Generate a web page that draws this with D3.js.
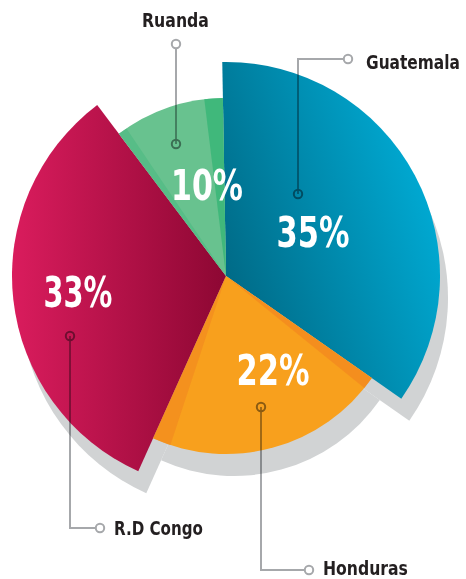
<!DOCTYPE html>
<html>
<head>
<meta charset="utf-8">
<script src="https://cdn.jsdelivr.net/npm/d3@7/dist/d3.min.js"></script>
<style>
  html, body { margin: 0; padding: 0; background: #fff; }
  svg { display: block; }
  text { font-family: "DejaVu Sans Condensed", "DejaVu Sans", sans-serif; font-stretch: condensed; font-weight: bold; }
</style>
</head>
<body>
<svg id="chart" width="466" height="579"></svg>
<script>
const categories = ["Guatemala", "Honduras", "R.D Congo", "Ruanda"];
const values = [35, 22, 33, 10];
const percentLabels = ["35%", "22%", "33%", "10%"];

const cx = 226, cy = 276;
const svg = d3.select("#chart");
const defs = svg.append("defs");

const radius = d3.scaleOrdinal().domain(categories).range([214, 178, 214, 178]);
const rot = -1 * Math.PI / 180;

const pie = d3.pie().sort(null).value(d => d.value)
  .startAngle(rot).endAngle(2 * Math.PI + rot);
const data = categories.map((c, i) => ({ cat: c, value: values[i], label: percentLabels[i] }));
const arcs = pie(data);
const arc = d3.arc().innerRadius(0).outerRadius(d => radius(d.data.cat));

// gradients (coordinates relative to pie centre)
function lin(id, x1, y1, x2, y2, stops) {
  const g = defs.append("linearGradient").attr("id", id)
    .attr("gradientUnits", "userSpaceOnUse")
    .attr("x1", x1).attr("y1", y1).attr("x2", x2).attr("y2", y2);
  stops.forEach(s => g.append("stop").attr("offset", s[0]).attr("stop-color", s[1]));
}
lin("gBlue", 0, 20, 214, -50, [[0, "#006985"], [1, "#00a9d2"]]);
lin("gRed", -214, 0, 0, 0, [[0, "#da1c5d"], [1, "#8d0733"]]);

const fills = {
  "Guatemala": "url(#gBlue)",
  "Honduras": "#f8a01d",
  "R.D Congo": "url(#gRed)",
  "Ruanda": "#68c28f"
};

// shadow
const shadow = svg.append("g").attr("transform", `translate(${cx + 8},${cy + 22})`);
shadow.selectAll("path").data(arcs).join("path")
  .attr("d", arc).attr("fill", "#d1d3d4");

const g = svg.append("g").attr("transform", `translate(${cx},${cy})`);
g.selectAll("path.slice").data(arcs).join("path")
  .attr("class", "slice")
  .attr("d", arc)
  .attr("fill", d => fills[d.data.cat]);

// subtle inner strips
const deg = Math.PI / 180;
function strip(d, a0, a1, color, op) {
  g.append("path")
    .attr("d", d3.arc()({ innerRadius: 0, outerRadius: radius(d.data.cat), startAngle: a0, endAngle: a1 }))
    .attr("fill", color).attr("opacity", op);
}
const hond = arcs[1], ruan = arcs[3];
strip(hond, hond.startAngle, hond.startAngle + 4 * deg, "#f28a1f", 0.8);
strip(hond, hond.endAngle - 6 * deg, hond.endAngle, "#f28a1f", 0.7);
strip(ruan, ruan.startAngle, ruan.startAngle + 3 * deg, "#52bc84", 0.8);
strip(ruan, ruan.endAngle - 6 * deg, ruan.endAngle, "#3cb779", 0.9);

// fit a text to a target width by horizontal scaling (left-anchored at x)
function fitText(sel, x, y, w) {
  sel.attr("x", 0).attr("y", 0);
  const nat = sel.node().getComputedTextLength();
  const s = w / nat;
  sel.attr("transform", `translate(${x},${y}) scale(${s},1)`);
}

// percent labels
const pctPos = { "Guatemala": [313, 247, 73], "Honduras": [273, 385, 73], "R.D Congo": [78, 307, 69], "Ruanda": [207, 200, 72] };
svg.append("g").selectAll("text").data(arcs).join("text")
  .attr("font-size", 42)
  .attr("fill", "#fff")
  .text(d => d.data.label)
  .each(function (d) {
    const p = pctPos[d.data.cat];
    fitText(d3.select(this), p[0] - p[2] / 2, p[1], p[2]);
  });

// leaders
const leaders = {
  "Ruanda": { pts: [[176, 144], [176, 44]], label: [142, 27, 67] },
  "Guatemala": { pts: [[298, 194], [298, 59], [348, 59]], label: [366, 69, 94] },
  "R.D Congo": { pts: [[70, 336], [70, 528], [100, 528]], label: [114, 535, 89] },
  "Honduras": { pts: [[261, 407], [261, 570], [309, 570]], label: [323, 575, 85] }
};
const lg = svg.append("g").style("mix-blend-mode", "multiply");
categories.forEach(c => {
  const p = leaders[c].pts;
  lg.append("path")
    .attr("d", d3.line()(p))
    .attr("fill", "none").attr("stroke", "#a6a8ab").attr("stroke-width", 2);
  lg.append("circle").attr("cx", p[0][0]).attr("cy", p[0][1]).attr("r", 4.2)
    .attr("fill", "none").attr("stroke", "#8f9194").attr("stroke-width", 2);
  const q = p[p.length - 1];
  lg.append("circle").attr("cx", q[0]).attr("cy", q[1]).attr("r", 4.2)
    .attr("fill", "#fff").attr("stroke", "#a6a8ab").attr("stroke-width", 2);
});

svg.append("g").selectAll("text").data(categories).join("text")
  .attr("font-size", 20)
  .attr("fill", "#231f20")
  .text(c => c)
  .each(function (c) {
    const L = leaders[c].label;
    fitText(d3.select(this), L[0], L[1], L[2]);
  });
</script>
</body>
</html>
